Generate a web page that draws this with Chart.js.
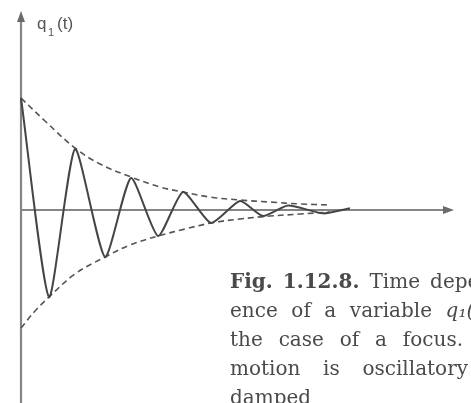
<!DOCTYPE html>
<html>
<head>
<meta charset="utf-8">
<script src="https://cdn.jsdelivr.net/npm/chart.js@4.4.1/dist/chart.umd.min.js"></script>
<style>
    html, body { margin: 0; padding: 0; background: #fff; }
    canvas { display: block; }
</style>
</head>
<body>
    <canvas id="chartCanvas" width="471" height="403"></canvas>
    <script>
        // damped oscillation q1(t): turning points read along the time axis
        const tCurve = [0, 2.8, 5.4, 8.4, 11.0, 13.7, 16.2, 19.0, 21.9, 24.2, 26.7, 30.2, 32.9];
        const qCurve = [1.0, -0.777, 0.545, -0.42, 0.286, -0.232, 0.161, -0.116, 0.080, -0.054, 0.040, -0.030, 0.015];

        // upper and lower envelopes (dashed)
        const tUpper = [0, 2.4, 5.4, 7.9, 11.0, 13.9, 16.2, 18.9, 21.9, 24.9, 27.9, 30.9];
        const qUpper = [1.0, 0.795, 0.554, 0.411, 0.295, 0.205, 0.161, 0.116, 0.089, 0.071, 0.054, 0.045];
        const tLower = [0, 1.4, 2.8, 5.4, 8.4, 10.9, 13.7, 16.4, 19.0, 21.9, 24.9, 27.9, 30.9];
        const qLower = [-1.054, -0.902, -0.777, -0.571, -0.42, -0.3125, -0.232, -0.17, -0.116, -0.080, -0.054, -0.036, -0.018];

        const axisLabel = ['q', '1', '(t)'];
        const captionBold = 'Fig. 1.12.8.';
        const captionLines = [
            'Time dependence',
            'ence of a variable q\u2081(t) in',
            'the case of a focus. The',
            'motion is oscillatory and',
            'damped'
        ];

        const toPoints = (ts, qs) => ts.map((t, i) => ({ x: t, y: qs[i] }));

        // axes with arrow heads, plus the q1(t) label and the caption
        const figurePlugin = {
            id: 'figure',
            beforeDatasetsDraw(chart) {
                const { ctx, scales: { x, y } } = chart;
                const x0 = x.getPixelForValue(0);
                const y0 = y.getPixelForValue(0);
                ctx.save();
                ctx.strokeStyle = '#858585';
                ctx.fillStyle = '#6a6a6a';
                ctx.lineWidth = 2.2;
                // time axis
                const xEnd = 454;
                ctx.beginPath();
                ctx.moveTo(x0, y0);
                ctx.lineTo(xEnd - 6, y0);
                ctx.stroke();
                ctx.beginPath();
                ctx.moveTo(xEnd, y0);
                ctx.lineTo(xEnd - 11, y0 - 4);
                ctx.lineTo(xEnd - 11, y0 + 4);
                ctx.closePath();
                ctx.fill();
                // q axis
                const yTop = 11;
                ctx.beginPath();
                ctx.moveTo(x0, chart.height);
                ctx.lineTo(x0, yTop + 6);
                ctx.stroke();
                ctx.beginPath();
                ctx.moveTo(x0, yTop);
                ctx.lineTo(x0 - 4, yTop + 11);
                ctx.lineTo(x0 + 4, yTop + 11);
                ctx.closePath();
                ctx.fill();
                ctx.restore();
            },
            afterDraw(chart) {
                const { ctx } = chart;
                ctx.save();
                ctx.fillStyle = '#555';
                ctx.textBaseline = 'alphabetic';
                ctx.font = '17px "Liberation Sans"';
                ctx.fillText(axisLabel[0], 37, 29);
                ctx.font = '11px "Liberation Sans"';
                ctx.fillText(axisLabel[1], 48, 36);
                ctx.font = '17px "Liberation Sans"';
                ctx.fillText(axisLabel[2], 57, 29);

                // justified caption: word gaps set so that the word at `anchor` ends at `anchorX`
                ctx.fillStyle = '#4a4a4a';
                const left = 230;
                const lineY = [288, 317, 346, 375, 404];
                const anchor = [2, 3, 4, 2, -1];
                const anchorX = [420, 432, 463, 468, 0];
                captionLines.forEach((line, i) => {
                    let parts = line.split(' ').map(w => ({ text: w, style: '' }));
                    if (i === 0) {
                        parts = captionBold.split(' ').map(w => ({ text: w, style: 'bold ' })).concat(parts);
                    }
                    parts.forEach(p => { if (p.text.startsWith('q')) p.style = 'italic '; });
                    const fontFor = p => p.style + '20px "DejaVu Serif"';
                    parts.forEach(p => { ctx.font = fontFor(p); p.w = ctx.measureText(p.text).width; });
                    let gap = 8;
                    const k = anchor[i];
                    if (k > 0) {
                        const used = parts.slice(0, k + 1).reduce((s, p) => s + p.w, 0);
                        gap = (anchorX[i] - left - used) / k;
                    }
                    let cx = left;
                    parts.forEach(p => {
                        ctx.font = fontFor(p);
                        ctx.fillText(p.text, cx, lineY[i]);
                        cx += p.w + gap;
                    });
                });
                ctx.restore();
            }
        };

        const ctx = document.getElementById('chartCanvas').getContext('2d');
        const chart = new Chart(ctx, {
            type: 'line',
            data: {
                datasets: [
                    {
                        label: 'q1(t)',
                        data: toPoints(tCurve, qCurve),
                        borderColor: '#454545',
                        borderWidth: 2,
                        tension: 0.2,
                        pointRadius: 0
                    },
                    {
                        label: 'upper',
                        data: toPoints(tUpper, qUpper),
                        borderColor: '#555',
                        borderWidth: 1.6,
                        borderDash: [6, 4],
                        tension: 0.4,
                        pointRadius: 0
                    },
                    {
                        label: 'lower',
                        data: toPoints(tLower, qLower),
                        borderColor: '#555',
                        borderWidth: 1.6,
                        borderDash: [6, 4],
                        tension: 0.4,
                        pointRadius: 0
                    }
                ]
            },
            options: {
                responsive: false,
                animation: false,
                layout: { padding: 0 },
                plugins: {
                    legend: { display: false },
                    tooltip: { enabled: false }
                },
                scales: {
                    x: { type: 'linear', display: false, min: -2.1, max: 45.0 },
                    y: { type: 'linear', display: false, min: -1.723, max: 1.875 }
                }
            },
            plugins: [figurePlugin]
        });
    </script>
</body>
</html>
